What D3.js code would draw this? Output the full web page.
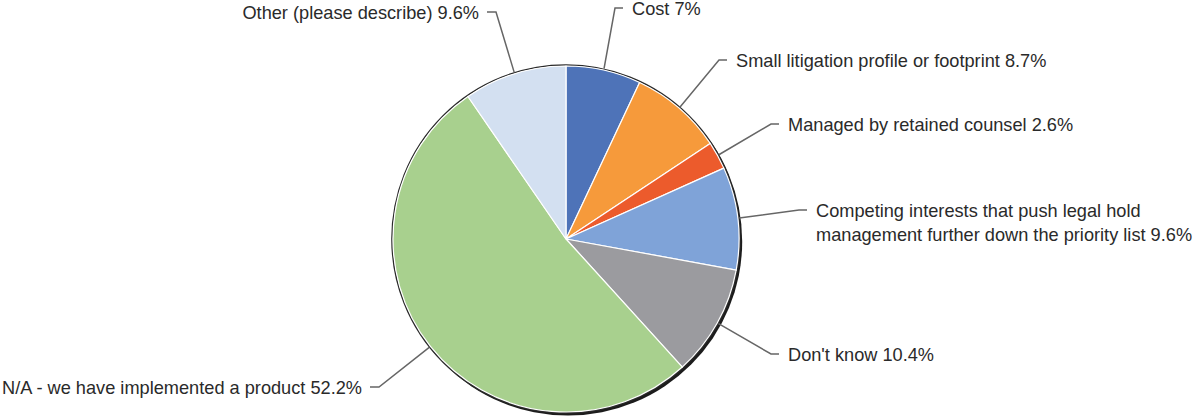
<!DOCTYPE html>
<html>
<head>
<meta charset="utf-8">
<script src="https://cdn.jsdelivr.net/npm/d3@7/dist/d3.min.js"></script>
<style>
  html, body { margin: 0; padding: 0; background: #fff; }
  svg { display: block; }
  text { font-family: "Liberation Sans", Arial, sans-serif; font-size: 18.2px; fill: #2a2a2a; }
</style>
</head>
<body>
<svg id="chart" width="1197" height="417"></svg>
<script>
// Reasons for not adopting a legal hold product (share of respondents, %)
const categories = [
  "Cost",
  "Small litigation profile or footprint",
  "Managed by retained counsel",
  "Competing interests that push legal hold management further down the priority list",
  "Don't know",
  "N/A - we have implemented a product",
  "Other (please describe)"
];
const values = [7, 8.7, 2.6, 9.6, 10.4, 52.2, 9.6];
const valueLabels = ["7%", "8.7%", "2.6%", "9.6%", "10.4%", "52.2%", "9.6%"];
const colors = ["#4e73b8", "#f69a3b", "#ec5b2c", "#7fa3d8", "#9b9b9f", "#a8d08e", "#d3e0f1"];

// Label text lines (the long one wraps onto two lines)
const labelLines = [
  ["Cost 7%"],
  ["Small litigation profile or footprint 8.7%"],
  ["Managed by retained counsel 2.6%"],
  ["Competing interests that push legal hold", "management further down the priority list 9.6%"],
  ["Don't know 10.4%"],
  ["N/A - we have implemented a product 52.2%"],
  ["Other (please describe) 9.6%"]
];

const width = 1197, height = 417;
const cx = 566, cy = 239, R = 173;

// Where each callout sits: text x and first-line baseline, and which side it hangs from
const layout = [
  { x: 632, y: 15,  side: "right" },
  { x: 736, y: 67,  side: "right" },
  { x: 788, y: 131, side: "right" },
  { x: 816, y: 217, side: "right" },
  { x: 788, y: 361, side: "right" },
  { x: 362, y: 394, side: "left" },
  { x: 479, y: 19,  side: "left" }
];

const svg = d3.select("#chart");
const g = svg.append("g").attr("transform", `translate(${cx},${cy})`);

const pie = d3.pie().sort(null).value(d => d);
const arcs = pie(values);
const arc = d3.arc().innerRadius(0).outerRadius(R);

// Drop shadow along the lower-right rim
g.append("circle")
  .attr("cx", 2).attr("cy", 2.4)
  .attr("r", R + 1.2)
  .attr("fill", "#1c1c1c");

// Thin dark rim all the way round
g.append("circle")
  .attr("r", R + 1)
  .attr("fill", "none")
  .attr("stroke", "#2a2a2a")
  .attr("stroke-width", 1.6);

g.selectAll("path.slice")
  .data(arcs)
  .join("path")
  .attr("class", "slice")
  .attr("d", arc)
  .attr("fill", (d, i) => colors[i])
  .attr("stroke", "#fff")
  .attr("stroke-width", 1.2)
  .attr("stroke-linejoin", "round");

// Callouts: leader from the slice's mid-angle on the rim to an elbow, then a short hook
const leaders = svg.append("g");
const labels = svg.append("g");

arcs.forEach((d, i) => {
  const a = (d.startAngle + d.endAngle) / 2;
  const px = cx + (R + 1.5) * Math.sin(a);
  const py = cy - (R + 1.5) * Math.cos(a);
  const L = layout[i];
  const hy = L.y - 7;
  let elbowX, hookX;
  if (L.side === "right") {
    hookX = L.x - 9;
    elbowX = L.x - 17;
  } else {
    hookX = L.x + 8;
    elbowX = L.x + 17;
  }
  leaders.append("path")
    .attr("d", d3.line()([[px, py], [elbowX, hy], [hookX, hy]]))
    .attr("fill", "none")
    .attr("stroke", "#666")
    .attr("stroke-width", 1.5);

  const t = labels.append("text")
    .attr("x", L.x)
    .attr("y", L.y)
    .attr("text-anchor", L.side === "right" ? "start" : "end");
  labelLines[i].forEach((line, k) => {
    t.append("tspan")
      .attr("x", L.x)
      .attr("dy", k === 0 ? 0 : 24)
      .text(line);
  });
});
</script>
</body>
</html>
